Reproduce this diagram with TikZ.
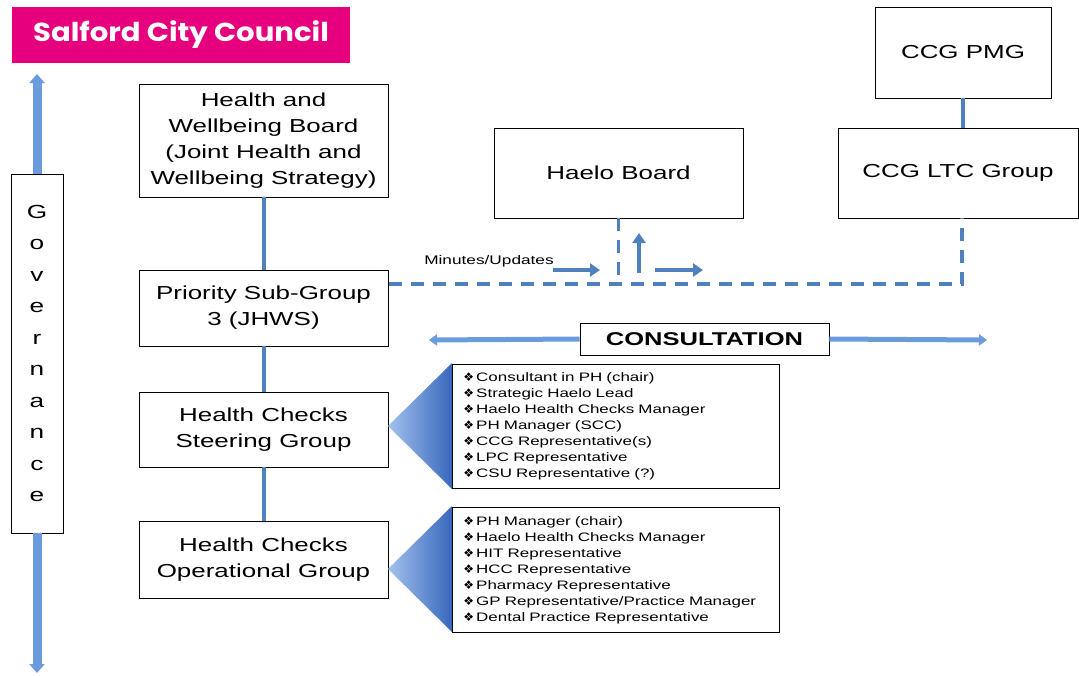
\documentclass[tikz,border=0pt]{standalone}
\usepackage{fontspec}
\setmainfont[FakeStretch=1.38]{Liberation Sans}
\newfontfamily\bulletfont{DejaVu Sans}
\newfontfamily\sccfont[FakeStretch=1.12]{Poppins}
\usetikzlibrary{arrows.meta}
\definecolor{conncol}{HTML}{4F81BD}
\definecolor{scccol}{HTML}{E6007E}
\definecolor{govcol}{HTML}{6A9BDD}
\definecolor{trilight}{HTML}{A2C1EE}
\definecolor{tridark}{HTML}{3868BC}
\newcommand{\itm}{{\bulletfont\fontsize{12}{16}\selectfont\char"2756}\,}
\begin{document}
\begin{tikzpicture}[x=1pt,y=-1pt,
  box/.style={draw=black, line width=0.8pt, fill=white, align=center, inner sep=0pt,
    font=\fontsize{18.8}{26}\selectfont},
  conn/.style={draw=conncol, line width=4pt},
  dashconn/.style={draw=conncol, line width=3.5pt, dash pattern=on 13pt off 9pt},
  minarrow/.style={draw=conncol, line width=3.5pt, -{Triangle[length=10pt,width=13pt]}},
  consarrow/.style={draw=govcol, line width=5pt, -{Triangle[length=8pt,width=11pt]}},
  govarrow/.style={draw=govcol, line width=9pt, -{Triangle[length=9pt,width=15pt]}},
  listbox/.style={draw=black, line width=0.8pt, fill=white, anchor=north west, align=left,
    inner xsep=11pt, inner ysep=0pt, minimum width=327pt, text width=305pt,
    font=\fontsize{12.3}{16}\selectfont},
  tri/.style={left color=trilight, right color=tridark}
]
\useasboundingbox (0,0) rectangle (1079,675);

% Salford City Council
\node[fill=scccol, minimum width=338pt, minimum height=56pt, inner sep=0pt, text=white,
  font=\sccfont\bfseries\fontsize{26}{26}\selectfont] (scc) at (181,35) {Salford City Council};

% Governance
\node[box, minimum width=52pt, minimum height=359pt, font=\fontsize{19}{31.5}\selectfont]
  (gov) at (37,353.5) {G\\o\\v\\e\\r\\n\\a\\n\\c\\e};
\coordinate (gtop) at (37,74);
\coordinate (gbot) at (37,673);
\draw[govarrow] (gov.north) -- (gtop);
\draw[govarrow] (gov.south) -- (gbot);

% main column
\node[box, minimum width=249pt, minimum height=113pt] (hwb) at (263.5,140.5)
  {Health and\\Wellbeing Board\\(Joint Health and\\Wellbeing Strategy)};
\node[box, minimum width=249pt, minimum height=76pt] (prio) at (263.5,308)
  {Priority Sub-Group\\3 (JHWS)};
\node[box, minimum width=249pt, minimum height=75pt] (steer) at (263.5,429.5)
  {Health Checks\\Steering Group};
\node[box, minimum width=249pt, minimum height=77pt] (oper) at (263.5,559.5)
  {Health Checks\\Operational Group};
\draw[conn] (hwb.south) -- (prio.north);
\draw[conn] (prio.south) -- (steer.north);
\draw[conn] (steer.south) -- (oper.north);

% right boxes
\node[box, minimum width=249pt, minimum height=90pt] (haelo) at (618.5,173) {Haelo Board};
\node[box, minimum width=176pt, minimum height=91pt] (pmg) at (963,52.5) {CCG PMG};
\node[box, minimum width=240pt, minimum height=90pt] (ltc) at (958,173) {CCG LTC Group};
\draw[conn] (pmg.south) -- (pmg.south |- ltc.north);

% dashed links
\coordinate (dstart) at (389,284);
\coordinate (dcorner) at (962,284);
\draw[dashconn] (dstart) -- (dcorner) -- (dcorner |- ltc.south);
\draw[dashconn] (haelo.south) -- (haelo.south |- dstart);

% minutes arrows
\node[font=\fontsize{12.5}{14}\selectfont, inner sep=0pt] (min) at (489,261) {Minutes/Updates};
\coordinate (a1s) at (553,270); \coordinate (a1e) at (600,270);
\coordinate (a2s) at (639,273); \coordinate (a2e) at (639,233);
\coordinate (a3s) at (655,270); \coordinate (a3e) at (703,270);
\draw[minarrow] (a1s) -- (a1e);
\draw[minarrow] (a2s) -- (a2e);
\draw[minarrow] (a3s) -- (a3e);

% consultation
\node[box, minimum width=249pt, minimum height=32pt, font=\bfseries\fontsize{18.5}{20}\selectfont]
  (cons) at (704.5,339) {CONSULTATION};
\coordinate (cl) at (429,340);
\coordinate (cr) at (987,340);
\draw[consarrow] (cons.west) -- (cl);
\draw[consarrow] (cons.east) -- (cr);

% steering list
\coordinate (t1) at (388,426);
\shade[tri] (t1) -- (452,363) -- (452,489) -- cycle;
\node[listbox, minimum height=124pt] (list1) at (452,364)
  {\itm Consultant in PH (chair)\\
   \itm Strategic Haelo Lead\\
   \itm Haelo Health Checks Manager\\
   \itm PH Manager (SCC)\\
   \itm CCG Representative(s)\\
   \itm LPC Representative\\
   \itm CSU Representative (?)};

% operational list
\coordinate (t2) at (388,569);
\shade[tri] (t2) -- (452,506) -- (452,632) -- cycle;
\node[listbox, minimum height=125pt] (list2) at (452,507)
  {\itm PH Manager (chair)\\
   \itm Haelo Health Checks Manager\\
   \itm HIT Representative\\
   \itm HCC Representative\\
   \itm Pharmacy Representative\\
   \itm GP Representative/Practice Manager\\
   \itm Dental Practice Representative};
\end{tikzpicture}
\end{document}
